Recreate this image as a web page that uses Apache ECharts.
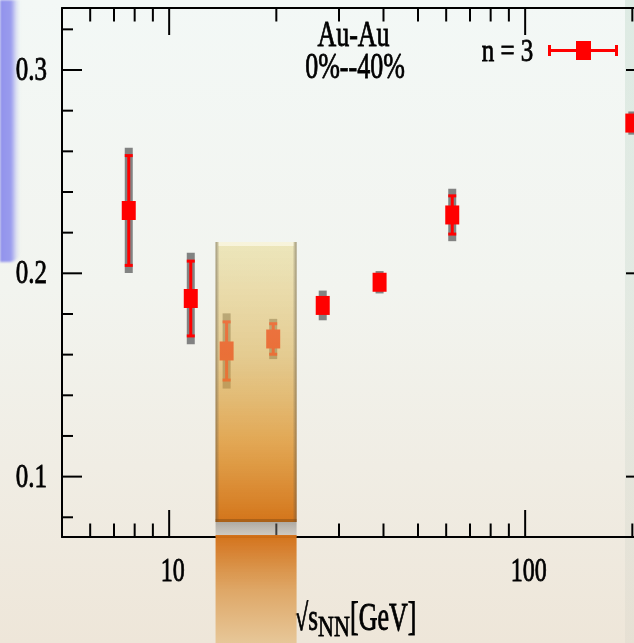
<!DOCTYPE html>
<html>
<head>
<meta charset="utf-8">
<script src="https://cdn.jsdelivr.net/npm/echarts@6/dist/echarts.min.js"></script>
<style>
html,body{margin:0;padding:0;overflow:hidden;width:634px;height:643px;}
#bg{position:absolute;left:0;top:0;width:634px;height:643px;background:linear-gradient(to bottom,#f3f8f6 0%,#f2f4ef 45%,#eee6d9 100%);}
#blue{position:absolute;left:0;top:0;width:20px;height:262px;border-bottom-right-radius:10px;
  background:linear-gradient(to right,#9192ec 0%,#9a9cee 55%,rgba(200,205,240,0.6) 80%,rgba(240,244,245,0) 100%);
  filter:blur(1px);}
#right{position:absolute;left:625px;top:0;width:9px;height:643px;background:linear-gradient(to bottom,rgba(195,218,205,0.45),rgba(200,200,190,0.2));}
#chart{position:absolute;left:0;top:0;width:660px;height:643px;}
</style>
</head>
<body>
<div id="bg"></div>
<div id="blue"></div>
<div id="right"></div>
<div id="chart"></div>
<script>
// ---- data ----
const energies   = [7.7, 11.5, 14.5, 19.6, 27, 39, 62.4, 200];
const v2Values   = [0.2309, 0.1876, 0.1618, 0.1677, 0.1842, 0.1956, 0.2287, 0.2739];
const statErrors = [0.0270, 0.0184, 0.0143, 0.0075, 0.0030, 0.0020, 0.0094, 0.0030];
const sysErrors  = [0.0308, 0.0225, 0.0185, 0.0099, 0.0073, 0.0055, 0.0129, 0.0057];

const xMajorTicks = [10, 100];
const xMinorTicks = [6, 7, 8, 9, 20, 30, 40, 50, 60, 70, 80, 90, 200];
const xTickLabels = ['10', '100'];
const yMajorTicks = [0.1, 0.2, 0.3];
const yMinorTicks = [0.08, 0.12, 0.14, 0.16, 0.18, 0.22, 0.24, 0.26, 0.28, 0.32];
const yTickLabels = ['0.1', '0.2', '0.3'];

const bandEnergy = [13.5, 22.8];
const bandValue  = [0.0777, 0.2154];

const xRange = [5, 218.5];
const yRange = [0.0703, 0.3305];

// ---- chart ----
const chart = echarts.init(document.getElementById('chart'), null, {renderer: 'canvas'});
const FONT = '"Liberation Serif","Times New Roman",serif';

function txt(x, y, text, size, align, sy) {
  return {type: 'text', x: x, y: y, scaleY: sy,
    style: {text: text, font: size + 'px ' + FONT, fill: '#000', stroke: '#000', lineWidth: 0.6,
      align: align, textAlign: align, verticalAlign: 'middle', textVerticalAlign: 'middle'}};
}

const axisBase = {
  axisLine: {show: true, onZero: false, lineStyle: {color: '#000', width: 2}},
  axisTick: {show: false}, axisLabel: {show: false},
  splitLine: {show: false}, minorTick: {show: false}, minorSplitLine: {show: false}
};

const xTickData = xMajorTicks.map(v => [v, yRange[0], 1]).concat(xMinorTicks.map(v => [v, yRange[0], 0]));
const yTickData = yMajorTicks.map(v => [xRange[0], v, 1]).concat(yMinorTicks.map(v => [xRange[0], v, 0]));
const pointData = energies.map((e, i) => [e, v2Values[i], statErrors[i], sysErrors[i]]);

const option = {
  backgroundColor: 'transparent',
  animation: false,
  grid: {left: 62, right: 14, top: 8, bottom: 106, containLabel: false, outerBoundsMode: 'none'},
  xAxis: [
    Object.assign({type: 'log', logBase: 10, min: xRange[0], max: xRange[1], position: 'bottom'}, axisBase),
    Object.assign({type: 'log', logBase: 10, min: xRange[0], max: xRange[1], position: 'top'}, axisBase)
  ],
  yAxis: [
    Object.assign({type: 'value', min: yRange[0], max: yRange[1], position: 'left'}, axisBase),
    Object.assign({type: 'value', min: yRange[0], max: yRange[1], position: 'right'}, axisBase)
  ],
  series: [
    { // x ticks (bottom + top, inward)
      type: 'custom', z: 3, data: xTickData, silent: true,
      renderItem: function (params, api) {
        const cs = params.coordSys;
        const x = api.coord([api.value(0), api.value(1)])[0];
        const len = api.value(2) ? 27 : 13.5;
        const bot = cs.y + cs.height, top = cs.y;
        return {type: 'group', children: [
          {type: 'line', shape: {x1: x, y1: bot, x2: x, y2: bot - len}, style: {stroke: '#000', lineWidth: 2}},
          {type: 'line', shape: {x1: x, y1: top, x2: x, y2: top + len}, style: {stroke: '#000', lineWidth: 2}}
        ]};
      }
    },
    { // y ticks (left + right, inward)
      type: 'custom', z: 3, data: yTickData, silent: true,
      renderItem: function (params, api) {
        const cs = params.coordSys;
        const y = api.coord([api.value(0), api.value(1)])[1];
        const len = api.value(2) ? 20 : 11;
        const l = cs.x, r = cs.x + cs.width;
        return {type: 'group', children: [
          {type: 'line', shape: {x1: l, y1: y, x2: l + len, y2: y}, style: {stroke: '#000', lineWidth: 2}},
          {type: 'line', shape: {x1: r, y1: y, x2: r - len, y2: y}, style: {stroke: '#000', lineWidth: 2}}
        ]};
      }
    },
    { // data points with stat (red) and sys (gray) errors
      type: 'custom', z: 4, data: pointData,
      renderItem: function (params, api) {
        const e = api.value(0), v = api.value(1), st = api.value(2), sy = api.value(3);
        const c = api.coord([e, v]);
        const sHi = api.coord([e, v + st])[1], sLo = api.coord([e, v - st])[1];
        const yHi = api.coord([e, v + sy])[1], yLo = api.coord([e, v - sy])[1];
        const x = c[0];
        return {type: 'group', children: [
          {type: 'rect', shape: {x: x - 4, y: yHi, width: 8, height: yLo - yHi}, style: {fill: 'rgba(120,120,120,0.92)'}},
          {type: 'rect', shape: {x: x - 1.5, y: sHi, width: 3, height: sLo - sHi}, style: {fill: '#ff0000'}},
          {type: 'rect', shape: {x: x - 4, y: sHi - 1.5, width: 8, height: 3}, style: {fill: '#ff0000'}},
          {type: 'rect', shape: {x: x - 4, y: sLo - 1.5, width: 8, height: 3}, style: {fill: '#ff0000'}},
          {type: 'rect', shape: {x: x - 7, y: c[1] - 9.5, width: 14, height: 19}, style: {fill: '#ff0000'}}
        ]};
      }
    },
    { // shaded band
      type: 'custom', z: 5, silent: true,
      data: [[bandEnergy[0], bandValue[0], bandEnergy[1], bandValue[1]]],
      renderItem: function (params, api) {
        const cs = params.coordSys;
        const p0 = api.coord([api.value(0), api.value(3)]);
        const p1 = api.coord([api.value(2), api.value(1)]);
        const w = p1[0] - p0[0];
        const h = p1[1] - p0[1];
        const gb = cs.y + cs.height;
        const edge = function (x0, toRight) {
          return {type: 'rect', shape: {x: x0, y: p0[1], width: 4, height: h},
            style: {fill: new echarts.graphic.LinearGradient(toRight ? 0 : 1, 0, toRight ? 1 : 0, 0, [
              {offset: 0, color: 'rgba(95,85,70,0.55)'}, {offset: 1, color: 'rgba(95,85,70,0)'}])}};
        };
        return {type: 'group', children: [
          {type: 'rect', shape: {x: p0[0], y: p1[1], width: w, height: gb - p1[1]},
            style: {fill: new echarts.graphic.LinearGradient(0, 0, 0, 1, [
              {offset: 0, color: 'rgba(110,105,100,0.5)'}, {offset: 1, color: 'rgba(165,162,158,0.4)'}])}},
          {type: 'rect', shape: {x: p0[0], y: p0[1], width: w, height: h},
            style: {fill: new echarts.graphic.LinearGradient(0, 0, 0, 1, [
              {offset: 0, color: 'rgba(232,218,145,0.55)'},
              {offset: 0.4, color: 'rgba(220,180,90,0.62)'},
              {offset: 0.72, color: 'rgba(222,150,50,0.82)'},
              {offset: 1, color: 'rgba(210,110,15,0.95)'}])}},
          edge(p0[0], true),
          edge(p1[0] - 4, false),
          {type: 'rect', shape: {x: p0[0], y: p1[1] - 3, width: w, height: 3}, style: {fill: 'rgba(120,70,20,0.45)'}},
          {type: 'rect', shape: {x: p0[0] + 3, y: p0[1], width: w - 6, height: 4}, style: {fill: 'rgba(255,255,245,0.55)'}},
          {type: 'rect', shape: {x: p0[0], y: gb - 2, width: w, height: 660 - gb},
            style: {fill: new echarts.graphic.LinearGradient(0, 0, 0, 1, [
              {offset: 0, color: 'rgba(210,110,20,0.97)'},
              {offset: 0.45, color: 'rgba(220,160,90,0.9)'},
              {offset: 1, color: 'rgba(232,205,160,0.9)'}])}}
        ]};
      }
    },
    { // x tick labels
      type: 'custom', z: 6, silent: true,
      data: xMajorTicks.map(v => [v, yRange[0]]),
      renderItem: function (params, api) {
        const cs = params.coordSys;
        const x = api.coord([api.value(0), api.value(1)])[0];
        return txt(x + 3.5, cs.y + cs.height + 35, xTickLabels[params.dataIndex], 24, 'center', 1.42);
      }
    },
    { // y tick labels
      type: 'custom', z: 6, silent: true,
      data: yMajorTicks.map(v => [xRange[0], v]),
      renderItem: function (params, api) {
        const cs = params.coordSys;
        const y = api.coord([api.value(0), api.value(1)])[1];
        return txt(cs.x - 15, y + 1, yTickLabels[params.dataIndex], 25, 'right', 1.38);
      }
    }
  ],
  graphic: [
    txt(353.5, 36.5, 'Au-Au', 26, 'center', 1.34),
    txt(355, 68.5, '0%--40%', 26, 'center', 1.4),
    txt(507.5, 52.5, 'n = 3', 25, 'center', 1.3),
    {type: 'rect', shape: {x: 549, y: 49, width: 68, height: 3}, style: {fill: '#ff0000'}},
    {type: 'rect', shape: {x: 548, y: 45, width: 3, height: 11}, style: {fill: '#ff0000'}},
    {type: 'rect', shape: {x: 615, y: 45, width: 3, height: 11}, style: {fill: '#ff0000'}},
    {type: 'rect', shape: {x: 576, y: 41, width: 15, height: 19}, style: {fill: '#ff0000'}},
    txt(318, 620, '\u221As', 25, 'right', 1.5),
    txt(318, 628, 'NN', 22, 'left', 1.37),
    txt(350, 620, '[GeV]', 26, 'left', 1.5)
  ]
};
chart.setOption(option);
</script>
</body>
</html>
